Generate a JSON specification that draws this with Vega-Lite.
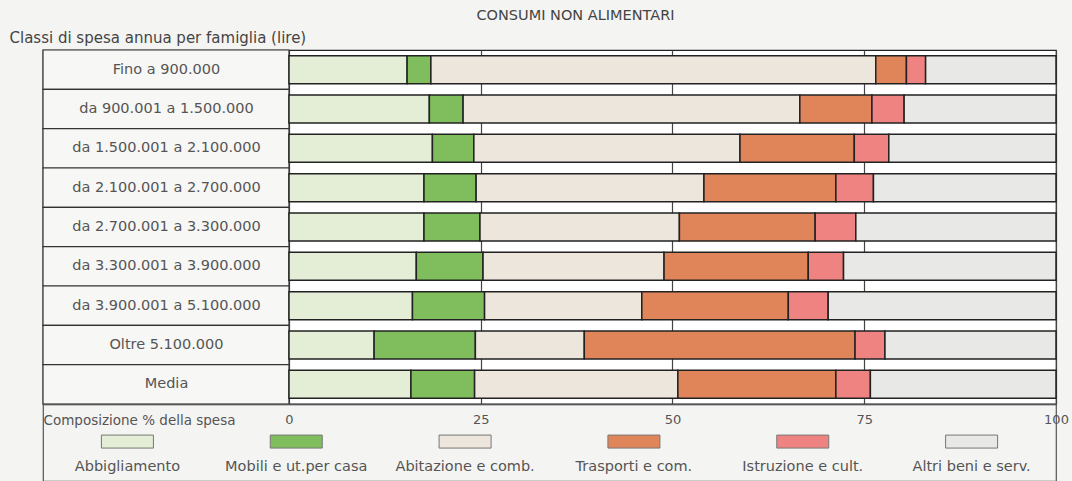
{
  "$schema": "https://vega.github.io/schema/vega-lite/v6.json",
  "background": "#f4f4f2",
  "padding": {"left": 8, "top": 6, "right": 2, "bottom": 0},
  "config": {"font": "DejaVu Sans", "view": {"stroke": null}},
  "datasets": {
    "bars": [
      {"classe": "Fino a 900.000", "voce": "Abbigliamento", "o": 1, "v": 15.4},
      {"classe": "Fino a 900.000", "voce": "Mobili e ut.per casa", "o": 2, "v": 3.1},
      {"classe": "Fino a 900.000", "voce": "Abitazione e comb.", "o": 3, "v": 58.0},
      {"classe": "Fino a 900.000", "voce": "Trasporti e com.", "o": 4, "v": 4.0},
      {"classe": "Fino a 900.000", "voce": "Istruzione e cult.", "o": 5, "v": 2.5},
      {"classe": "Fino a 900.000", "voce": "Altri beni e serv.", "o": 6, "v": 17.0},
      {"classe": "da 900.001 a 1.500.000", "voce": "Abbigliamento", "o": 1, "v": 18.3},
      {"classe": "da 900.001 a 1.500.000", "voce": "Mobili e ut.per casa", "o": 2, "v": 4.4},
      {"classe": "da 900.001 a 1.500.000", "voce": "Abitazione e comb.", "o": 3, "v": 43.9},
      {"classe": "da 900.001 a 1.500.000", "voce": "Trasporti e com.", "o": 4, "v": 9.4},
      {"classe": "da 900.001 a 1.500.000", "voce": "Istruzione e cult.", "o": 5, "v": 4.2},
      {"classe": "da 900.001 a 1.500.000", "voce": "Altri beni e serv.", "o": 6, "v": 19.8},
      {"classe": "da 1.500.001 a 2.100.000", "voce": "Abbigliamento", "o": 1, "v": 18.7},
      {"classe": "da 1.500.001 a 2.100.000", "voce": "Mobili e ut.per casa", "o": 2, "v": 5.4},
      {"classe": "da 1.500.001 a 2.100.000", "voce": "Abitazione e comb.", "o": 3, "v": 34.7},
      {"classe": "da 1.500.001 a 2.100.000", "voce": "Trasporti e com.", "o": 4, "v": 14.9},
      {"classe": "da 1.500.001 a 2.100.000", "voce": "Istruzione e cult.", "o": 5, "v": 4.5},
      {"classe": "da 1.500.001 a 2.100.000", "voce": "Altri beni e serv.", "o": 6, "v": 21.8},
      {"classe": "da 2.100.001 a 2.700.000", "voce": "Abbigliamento", "o": 1, "v": 17.6},
      {"classe": "da 2.100.001 a 2.700.000", "voce": "Mobili e ut.per casa", "o": 2, "v": 6.8},
      {"classe": "da 2.100.001 a 2.700.000", "voce": "Abitazione e comb.", "o": 3, "v": 29.7},
      {"classe": "da 2.100.001 a 2.700.000", "voce": "Trasporti e com.", "o": 4, "v": 17.2},
      {"classe": "da 2.100.001 a 2.700.000", "voce": "Istruzione e cult.", "o": 5, "v": 4.9},
      {"classe": "da 2.100.001 a 2.700.000", "voce": "Altri beni e serv.", "o": 6, "v": 23.8},
      {"classe": "da 2.700.001 a 3.300.000", "voce": "Abbigliamento", "o": 1, "v": 17.6},
      {"classe": "da 2.700.001 a 3.300.000", "voce": "Mobili e ut.per casa", "o": 2, "v": 7.3},
      {"classe": "da 2.700.001 a 3.300.000", "voce": "Abitazione e comb.", "o": 3, "v": 26.0},
      {"classe": "da 2.700.001 a 3.300.000", "voce": "Trasporti e com.", "o": 4, "v": 17.7},
      {"classe": "da 2.700.001 a 3.300.000", "voce": "Istruzione e cult.", "o": 5, "v": 5.3},
      {"classe": "da 2.700.001 a 3.300.000", "voce": "Altri beni e serv.", "o": 6, "v": 26.1},
      {"classe": "da 3.300.001 a 3.900.000", "voce": "Abbigliamento", "o": 1, "v": 16.6},
      {"classe": "da 3.300.001 a 3.900.000", "voce": "Mobili e ut.per casa", "o": 2, "v": 8.7},
      {"classe": "da 3.300.001 a 3.900.000", "voce": "Abitazione e comb.", "o": 3, "v": 23.6},
      {"classe": "da 3.300.001 a 3.900.000", "voce": "Trasporti e com.", "o": 4, "v": 18.8},
      {"classe": "da 3.300.001 a 3.900.000", "voce": "Istruzione e cult.", "o": 5, "v": 4.6},
      {"classe": "da 3.300.001 a 3.900.000", "voce": "Altri beni e serv.", "o": 6, "v": 27.7},
      {"classe": "da 3.900.001 a 5.100.000", "voce": "Abbigliamento", "o": 1, "v": 16.1},
      {"classe": "da 3.900.001 a 5.100.000", "voce": "Mobili e ut.per casa", "o": 2, "v": 9.4},
      {"classe": "da 3.900.001 a 5.100.000", "voce": "Abitazione e comb.", "o": 3, "v": 20.5},
      {"classe": "da 3.900.001 a 5.100.000", "voce": "Trasporti e com.", "o": 4, "v": 19.1},
      {"classe": "da 3.900.001 a 5.100.000", "voce": "Istruzione e cult.", "o": 5, "v": 5.2},
      {"classe": "da 3.900.001 a 5.100.000", "voce": "Altri beni e serv.", "o": 6, "v": 29.7},
      {"classe": "Oltre 5.100.000", "voce": "Abbigliamento", "o": 1, "v": 11.1},
      {"classe": "Oltre 5.100.000", "voce": "Mobili e ut.per casa", "o": 2, "v": 13.2},
      {"classe": "Oltre 5.100.000", "voce": "Abitazione e comb.", "o": 3, "v": 14.2},
      {"classe": "Oltre 5.100.000", "voce": "Trasporti e com.", "o": 4, "v": 35.3},
      {"classe": "Oltre 5.100.000", "voce": "Istruzione e cult.", "o": 5, "v": 3.9},
      {"classe": "Oltre 5.100.000", "voce": "Altri beni e serv.", "o": 6, "v": 22.3},
      {"classe": "Media", "voce": "Abbigliamento", "o": 1, "v": 15.9},
      {"classe": "Media", "voce": "Mobili e ut.per casa", "o": 2, "v": 8.3},
      {"classe": "Media", "voce": "Abitazione e comb.", "o": 3, "v": 26.5},
      {"classe": "Media", "voce": "Trasporti e com.", "o": 4, "v": 20.6},
      {"classe": "Media", "voce": "Istruzione e cult.", "o": 5, "v": 4.5},
      {"classe": "Media", "voce": "Altri beni e serv.", "o": 6, "v": 24.2}
    ],
    "classi": [
      {"classe": "Fino a 900.000"},
      {"classe": "da 900.001 a 1.500.000"},
      {"classe": "da 1.500.001 a 2.100.000"},
      {"classe": "da 2.100.001 a 2.700.000"},
      {"classe": "da 2.700.001 a 3.300.000"},
      {"classe": "da 3.300.001 a 3.900.000"},
      {"classe": "da 3.900.001 a 5.100.000"},
      {"classe": "Oltre 5.100.000"},
      {"classe": "Media"}
    ],
    "voci": [
      {"voce": "Abbigliamento"},
      {"voce": "Mobili e ut.per casa"},
      {"voce": "Abitazione e comb."},
      {"voce": "Trasporti e com."},
      {"voce": "Istruzione e cult."},
      {"voce": "Altri beni e serv."}
    ]
  },
  "bounds": "flush",
  "spacing": 0,
  "vconcat": [
    {
      "width": 1013,
      "height": 354,
      "view": {"fill": "#ffffff", "stroke": "#222", "strokeWidth": 1.2},
      "title": {"text": "CONSUMI NON ALIMENTARI", "anchor": "middle", "frame": "group", "dx": 26, "offset": 7, "fontSize": 14.5, "fontWeight": "normal", "color": "#444", "font": "DejaVu Sans"},
      "encoding": {
        "y": {
          "field": "classe", "type": "nominal", "sort": null,
          "scale": {"paddingInner": 0, "paddingOuter": 0},
          "axis": {
            "zindex": 2, "ticks": false, "domain": false, "grid": false,
            "labelAlign": "center", "labelPadding": -123, "labelLimit": 400,
            "labelFontSize": 14.5, "labelColor": "#555", "labelFont": "DejaVu Sans",
            "title": "Classi di spesa annua per famiglia (lire)",
            "titleAngle": 0, "titleX": -34, "titleY": -8, "titleAlign": "left", "titleAnchor": null,
            "titleBaseline": "alphabetic", "titleFontWeight": "normal", "titleFontSize": 15,
            "titleColor": "#444", "titleFont": "DejaVu Sans"
          }
        }
      },
      "layer": [
        {
          "data": {"name": "classi"},
          "mark": {"type": "rect", "fill": "#f7f7f5", "stroke": "#333", "strokeWidth": 1.2},
          "encoding": {
            "x": {"datum": -32.07, "type": "quantitative"},
            "x2": {"datum": 0}
          }
        },
        {
          "data": {"name": "bars"},
          "mark": {"type": "bar", "height": {"band": 0.71}, "stroke": "#222", "strokeWidth": 1.5},
          "encoding": {
            "x": {
              "field": "v", "type": "quantitative", "stack": "zero",
              "scale": {"domain": [-32.07, 100], "nice": false, "zero": false},
              "axis": {
                "values": [0, 25, 50, 75, 100],
                "grid": true, "gridColor": "#444", "gridWidth": 1.2,
                "domain": true, "domainColor": "#222", "domainWidth": 1.5,
                "ticks": false,
                "labelFontSize": 13, "labelColor": "#555", "labelPadding": 9, "labelFlush": false,
                "labelFont": "DejaVu Sans",
                "title": "Composizione % della spesa",
                "titleX": 0, "titleY": 16, "titleAlign": "left", "titleAnchor": null,
                "titleBaseline": "middle", "titleFontWeight": "normal", "titleFontSize": 13.5,
                "titleColor": "#555", "titleFont": "DejaVu Sans"
              }
            },
            "color": {
              "field": "voce", "type": "nominal", "legend": null,
              "scale": {
                "domain": ["Abbigliamento", "Mobili e ut.per casa", "Abitazione e comb.", "Trasporti e com.", "Istruzione e cult.", "Altri beni e serv."],
                "range": ["#e4edd5", "#7fbd5d", "#ece6dc", "#e0845a", "#ee8381", "#e8e8e6"]
              }
            },
            "order": {"field": "o", "type": "quantitative"}
          }
        }
      ]
    },
    {
      "width": 1013,
      "height": 77,
      "view": {"fill": null, "stroke": "#555", "strokeWidth": 1.2},
      "data": {"name": "voci"},
      "layer": [
        {
          "mark": {"type": "point", "shape": "M-2,-0.5H2V0.5H-2Z", "size": 676, "filled": true, "opacity": 1, "stroke": "#777", "strokeWidth": 1},
          "encoding": {
            "x": {"field": "voce", "type": "nominal", "sort": null, "scale": {"padding": 0.5}, "axis": null},
            "y": {"datum": "s", "type": "nominal", "scale": {"domain": ["s", "t"], "padding": 1.333, "align": 0.732}, "axis": null},
            "color": {
              "field": "voce", "type": "nominal", "legend": null,
              "scale": {
                "domain": ["Abbigliamento", "Mobili e ut.per casa", "Abitazione e comb.", "Trasporti e com.", "Istruzione e cult.", "Altri beni e serv."],
                "range": ["#e4edd5", "#7fbd5d", "#ece6dc", "#e0845a", "#ee8381", "#e8e8e6"]
              }
            }
          }
        },
        {
          "mark": {"type": "text", "fontSize": 14.5, "color": "#555", "font": "DejaVu Sans"},
          "encoding": {
            "x": {"field": "voce", "type": "nominal", "sort": null, "scale": {"padding": 0.5}, "axis": null},
            "y": {"datum": "t", "type": "nominal", "scale": {"domain": ["s", "t"], "padding": 1.333, "align": 0.732}, "axis": null},
            "text": {"field": "voce"}
          }
        }
      ]
    }
  ]
}
